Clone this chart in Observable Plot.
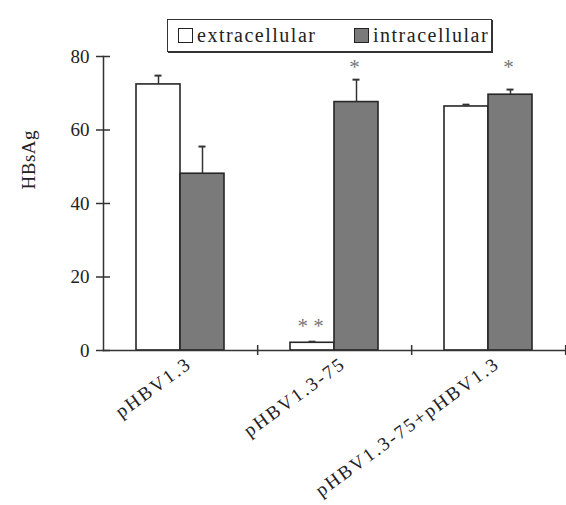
<!DOCTYPE html>
<html>
<head>
<meta charset="utf-8">
<script src="https://cdn.jsdelivr.net/npm/d3@7"></script>
<script src="https://cdn.jsdelivr.net/npm/@observablehq/plot@0.6"></script>
<style>
  html, body { margin: 0; padding: 0; background: #fff; }
  body { width: 566px; height: 505px; overflow: hidden; font-family: "Liberation Serif", "Times New Roman", serif; color: #222; }
  #legend { position: relative; height: 54px; }
  #legend .box { position: absolute; left: 167px; top: 19px; width: 323px; height: 31px;
    border: 1px solid #333; box-shadow: 1px 1px 0 #333; background: #fff; }
  #legend .item { position: absolute; top: 0; height: 31px; display: flex; align-items: center;
    font-size: 20px; letter-spacing: 1.5px; white-space: nowrap; }
  #legend .sw { width: 15px; height: 15px; border: 1.5px solid #222; margin-right: 4px; box-sizing: border-box; }
  svg g[aria-label="fx-axis tick label"] text { letter-spacing: 2.2px; }
  svg text.ylab { letter-spacing: 0.5px; }
</style>
</head>
<body>
<div id="legend"><div class="box"></div></div>
<div id="chart"></div>
<script>
// ---- data ----
const groups = ["pHBV1.3", "pHBV1.3-75", "pHBV1.3-75+pHBV1.3"];
const seriesNames = ["extracellular", "intracellular"];
const extracellular = [72.4, 2.1, 66.4];
const intracellular = [48.1, 67.6, 69.6];
const extracellularErr = [2.4, 0.3, 0.5];
const intracellularErr = [7.4, 6.1, 1.4];
const extracellularSig = ["", "* *", ""];
const intracellularSig = ["", "*", "*"];
const extracellularSigLevel = [null, 6.5, null];
const intracellularSigLevel = [null, 77.2, 77.2];
const yTicks = [0, 20, 40, 60, 80];
const yLabel = "HBsAg";
const seriesColors = ["#ffffff", "#7a7a7a"];

// ---- table built from the arrays ----
const rows = [];
groups.forEach((g, i) => {
  rows.push({group: g, series: seriesNames[0], value: extracellular[i], err: extracellularErr[i], sig: extracellularSig[i], sigY: extracellularSigLevel[i]});
  rows.push({group: g, series: seriesNames[1], value: intracellular[i], err: intracellularErr[i], sig: intracellularSig[i], sigY: intracellularSigLevel[i]});
});
const sigRows = rows.filter(d => d.sig);

// ---- legend ----
const box = document.querySelector("#legend .box");
const legendLeft = [10, 186];
seriesNames.forEach((s, i) => {
  const item = document.createElement("div");
  item.className = "item";
  item.style.left = legendLeft[i] + "px";
  const sw = document.createElement("span");
  sw.className = "sw";
  sw.style.background = seriesColors[i];
  item.appendChild(sw);
  item.appendChild(document.createTextNode(s));
  box.appendChild(item);
});

// ---- chart ----
const W = 566, H = 451, mL = 102, mR = 1, mT = 2, mB = 155;
const facetStep = (W - mL - mR) / groups.length;

const chart = Plot.plot({
  width: W, height: H,
  marginLeft: mL, marginRight: mR, marginTop: mT, marginBottom: mB,
  style: {fontFamily: "'Liberation Serif', 'Times New Roman', serif", fontSize: "19px", color: "#222", background: "white", overflow: "visible"},
  fx: {domain: groups, padding: 0, label: null},
  x: {domain: seriesNames, paddingInner: 0, paddingOuter: 0.74, axis: null},
  y: {domain: [0, 80]},
  color: {domain: seriesNames, range: seriesColors},
  marks: [
    Plot.barY(rows, {fx: "group", x: "series", y: "value", fill: "series", stroke: "#262626", strokeWidth: 1.6}),
    Plot.ruleX(rows, {fx: "group", x: "series", y1: "value", y2: d => d.value + d.err, stroke: "#333", strokeWidth: 1.5}),
    Plot.tickY(rows, {fx: "group", x: "series", y: d => d.value + d.err, stroke: "#333", strokeWidth: 2, insetLeft: 18.5, insetRight: 18.5}),
    Plot.text(sigRows, {fx: "group", x: "series", y: "sigY", text: "sig", fill: "#777", fontSize: 21, dx: -2, lineAnchor: "middle"}),
    Plot.ruleY([0], {stroke: "#333", strokeWidth: 1.5}),
    Plot.frame({anchor: "left", facetAnchor: "left", stroke: "#333", strokeWidth: 1.5}),
    // y axis: tick marks crossing the axis line, then labels
    Plot.axisY({ticks: yTicks, tickSize: 14, dx: 7, text: null, label: null, stroke: "#333", strokeWidth: 1.5}),
    Plot.axisY({ticks: yTicks, tickSize: 0, tickPadding: 14, label: null, fontSize: 19}),
    Plot.text([yLabel], {text: d => d, frameAnchor: "left", facetAnchor: "left", rotate: -90, dx: -75, dy: -14, fontSize: 19, fill: "#222", lineAnchor: "middle"}),
    // category boundary ticks crossing the x axis
    Plot.axisFx({anchor: "bottom", tickSize: 10, dy: -5, dx: facetStep / 2, text: null, label: null, stroke: "#333", strokeWidth: 1.5}),
    Plot.axisFx({anchor: "bottom", tickSize: 0, tickPadding: 11, tickRotate: -36, dx: 9, fontSize: 19, label: null})
  ]
});
chart.querySelectorAll("text").forEach(t => { if (t.textContent === yLabel) t.setAttribute("class", "ylab"); });
document.getElementById("chart").appendChild(chart);
</script>
</body>
</html>
